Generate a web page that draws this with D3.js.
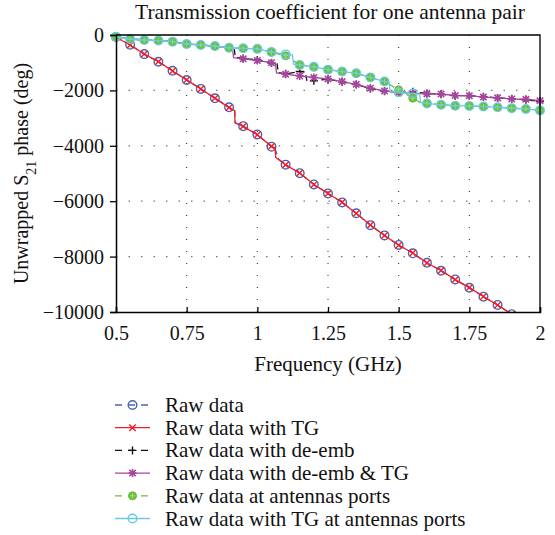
<!DOCTYPE html>
<html>
<head>
<meta charset="utf-8">
<script src="https://cdn.jsdelivr.net/npm/d3@7"></script>
<style>
    body { margin: 0; background: #fff; }
    svg text { font-family: "Liberation Serif", "DejaVu Serif", serif; fill: #111; }
</style>
</head>
<body>
<div id="chart"></div>
<script>
// Frequencies where markers sit (GHz)
const markFreq = [0.5, 0.55, 0.6, 0.65, 0.7, 0.75, 0.8, 0.85, 0.9, 0.95, 1.0,
    1.05, 1.1, 1.15, 1.2, 1.25, 1.3, 1.35, 1.4, 1.45, 1.5, 1.55, 1.6, 1.65,
    1.7, 1.75, 1.8, 1.85, 1.9, 1.95, 2.0];

// Unwrapped phase (deg) at each marker frequency
const rawData = [-70, -350, -690, -965, -1290, -1625, -1945, -2285, -2610, -3290, -3590,
    -4030, -4680, -4990, -5395, -5720, -6045, -6435, -6865, -7235, -7580, -7880, -8225,
    -8510, -8825, -9125, -9445, -9745, -10080, -10400, -10720];
const rawTG = [-80, -360, -685, -960, -1300, -1620, -1950, -2280, -2620, -3300, -3600,
    -4020, -4690, -4980, -5400, -5720, -6040, -6440, -6860, -7240, -7590, -7870, -8230,
    -8500, -8830, -9120, -9440, -9750, -10080, -10400, -10720];
const rawDeemb = [-60, -145, -180, -200, -240, -325, -360, -400, -460, -850, -900,
    -1010, -1400, -1320, -1650, -1600, -1690, -1790, -1930, -2030, -2070, -2050, -2110,
    -2140, -2190, -2190, -2230, -2270, -2300, -2340, -2400];
const rawDeembTG = [-60, -145, -180, -200, -240, -325, -360, -400, -460, -860, -920,
    -1000, -1415, -1480, -1535, -1585, -1680, -1780, -1920, -2020, -2080, -2100, -2125,
    -2130, -2185, -2190, -2240, -2270, -2310, -2320, -2370];
const rawPorts = [-60, -145, -180, -200, -240, -325, -360, -400, -460, -480, -500,
    -620, -750, -1080, -1150, -1250, -1320, -1380, -1530, -1680, -1980, -2280, -2460,
    -2520, -2555, -2560, -2580, -2610, -2640, -2670, -2720];
const rawTGPorts = [-60, -145, -180, -200, -240, -325, -360, -400, -460, -480, -500,
    -610, -700, -1080, -1150, -1250, -1320, -1380, -1530, -1680, -2070, -2110, -2470,
    -2520, -2555, -2560, -2580, -2610, -2640, -2670, -2720];

// Extra samples where the phase jumps between marker frequencies
const rawDataSteps = [[0.92, -2730], [0.922, -3170], [1.062, -4070], [1.075, -4480]];
const rawTGSteps = [[0.92, -2730], [0.921, -3170], [1.063, -4080], [1.065, -4420]];
const rawDeembSteps = [[0.918, -470], [0.922, -800], [1.07, -1040], [1.074, -1360],
    [1.17, -1330], [1.175, -1640]];
const rawDeembTGSteps = [[0.912, -470], [0.916, -820], [1.064, -1030], [1.068, -1370]];
const rawPortsSteps = [[1.575, -2430]];
const rawTGPortsSteps = [[1.124, -720], [1.128, -1050], [1.466, -1700], [1.47, -2040],
    [1.574, -2130], [1.578, -2440]];

const xTicks = [0.5, 0.75, 1, 1.25, 1.5, 1.75, 2];
const yTicks = [0, -2000, -4000, -6000, -8000, -10000];

const series = [
    {name: 'Raw data', values: rawData, steps: rawDataSteps, color: '#4a62b4', dash: '6,4', marker: 'circle'},
    {name: 'Raw data with TG', values: rawTG, steps: rawTGSteps, color: '#f21c24', dash: null, marker: 'cross'},
    {name: 'Raw data with de-emb', values: rawDeemb, steps: rawDeembSteps, color: '#111111', dash: '6,4', marker: 'plus'},
    {name: 'Raw data with de-emb & TG', values: rawDeembTG, steps: rawDeembTGSteps, color: '#a8449e', dash: null, marker: 'star'},
    {name: 'Raw data at antennas ports', values: rawPorts, steps: rawPortsSteps, color: '#6cbd3a', dash: '6,4', marker: 'filled'},
    {name: 'Raw data with TG at antennas ports', values: rawTGPorts, steps: rawTGPortsSteps, color: '#68cce0', dash: null, marker: 'circle'}
];

const margin = {top: 35, right: 15, bottom: 223, left: 116};
const width = 555 - margin.left - margin.right;
const height = 535 - margin.top - margin.bottom;
const fontSize = '20px';

const svg = d3.select('#chart')
    .append('svg')
    .attr('width', 555)
    .attr('height', 535);

const g = svg.append('g')
    .attr('transform', `translate(${margin.left},${margin.top})`);

const x = d3.scaleLinear().domain([0.5, 2]).range([0, width]);
const y = d3.scaleLinear().domain([-10000, 0]).range([height, 0]);

// Grid
g.append('g')
    .selectAll('line')
    .data(xTicks.slice(1, -1))
    .enter()
    .append('line')
    .attr('x1', d => x(d)).attr('x2', d => x(d))
    .attr('y1', 0).attr('y2', height)
    .attr('stroke', '#222')
    .attr('stroke-width', 1)
    .attr('stroke-dasharray', '1,11');

g.append('g')
    .selectAll('line')
    .data(yTicks.slice(1, -1))
    .enter()
    .append('line')
    .attr('x1', 0).attr('x2', width)
    .attr('y1', d => y(d)).attr('y2', d => y(d))
    .attr('stroke', '#777')
    .attr('stroke-width', 1.2)
    .attr('stroke-dasharray', '1.5,11');

// Plot clip
svg.append('defs').append('clipPath')
    .attr('id', 'plotClip')
    .append('rect')
    .attr('x', -6).attr('y', -6)
    .attr('width', width + 12).attr('height', height + 6);

const plot = g.append('g').attr('clip-path', 'url(#plotClip)');

const line = d3.line()
    .x(d => x(d[0]))
    .y(d => y(d[1]));

function markerPath(type) {
    const s = 3.2;
    if (type === 'cross') return `M${-s},${-s}L${s},${s}M${-s},${s}L${s},${-s}`;
    if (type === 'plus') return `M${-s - 0.8},0L${s + 0.8},0M0,${-s - 0.8}L0,${s + 0.8}`;
    if (type === 'star') return `M${-s - 0.8},0L${s + 0.8},0M0,${-s - 0.8}L0,${s + 0.8}M${-s},${-s}L${s},${s}M${-s},${s}L${s},${-s}`;
    return null;
}

function drawMarker(sel, type, color) {
    if (type === 'circle') {
        sel.append('circle').attr('r', 4.3).attr('fill', 'none')
            .attr('stroke', color).attr('stroke-width', 1.4);
    } else if (type === 'filled') {
        sel.append('circle').attr('r', 4).attr('fill', color)
            .attr('stroke', color).attr('stroke-width', 1);
        sel.append('path').attr('d', 'M-2.5,0L2.5,0M0,-2.5L0,2.5')
            .attr('stroke', '#a6dd7a').attr('stroke-width', 1);
    } else {
        sel.append('path').attr('d', markerPath(type)).attr('fill', 'none')
            .attr('stroke', color).attr('stroke-width', type === 'star' ? 1.6 : 1.4);
    }
}

series.forEach(s => {
    const pts = markFreq.map((f, i) => [f, s.values[i]]);
    const all = pts.concat(s.steps).sort((a, b) => a[0] - b[0]);

    plot.append('path')
        .datum(all)
        .attr('d', line)
        .attr('fill', 'none')
        .attr('stroke', s.color)
        .attr('stroke-width', 1.3)
        .attr('stroke-dasharray', s.dash);

    plot.append('g')
        .selectAll('g')
        .data(pts)
        .enter()
        .append('g')
        .attr('transform', d => `translate(${x(d[0])},${y(d[1])})`)
        .each(function () { drawMarker(d3.select(this), s.marker, s.color); });
});

// Frame (top and right)
g.append('path')
    .attr('d', `M0,0H${width}V${height}`)
    .attr('fill', 'none')
    .attr('stroke', '#000')
    .attr('stroke-width', 1.3);

// Axes
const xAxis = g.append('g')
    .attr('transform', `translate(0,${height})`)
    .call(d3.axisBottom(x).tickValues(xTicks).tickSize(-5).tickPadding(14)
        .tickFormat(d => String(d)));

const yAxis = g.append('g')
    .call(d3.axisLeft(y).tickValues(yTicks).tickSize(6).tickPadding(6)
        .tickFormat(d => d === 0 ? '0' : '\u2212' + Math.abs(d)));

[xAxis, yAxis].forEach(a => {
    a.select('.domain').attr('stroke', '#000').attr('stroke-width', 1.5);
    a.selectAll('.tick line').attr('stroke', '#000').attr('stroke-width', 1.3);
    a.selectAll('text')
        .style('font-family', '"Liberation Serif", "DejaVu Serif", serif')
        .style('font-size', fontSize)
        .attr('fill', '#111');
});

// Title
g.append('text')
    .attr('x', width / 2 + 2)
    .attr('y', -16)
    .attr('text-anchor', 'middle')
    .style('font-size', '21.5px')
    .text('Transmission coefficient for one antenna pair');

// X label
g.append('text')
    .attr('x', width / 2)
    .attr('y', height + 59)
    .attr('text-anchor', 'middle')
    .style('font-size', '21px')
    .text('Frequency (GHz)');

// Y label
const yLabel = g.append('text')
    .attr('transform', 'rotate(-90)')
    .attr('x', -height / 2)
    .attr('y', -88)
    .attr('text-anchor', 'middle')
    .style('font-size', fontSize);
yLabel.append('tspan').text('Unwrapped S');
yLabel.append('tspan').attr('baseline-shift', 'sub').style('font-size', '14px').text('21');
yLabel.append('tspan').text(' phase (deg)');

// Legend
const legend = svg.append('g')
    .attr('transform', 'translate(115,405)');

const rows = legend.selectAll('g')
    .data(series)
    .enter()
    .append('g')
    .attr('transform', (d, i) => `translate(0,${i * 22.7})`);

rows.append('line')
    .attr('x1', 0).attr('x2', 35)
    .attr('stroke', d => d.color)
    .attr('stroke-width', 1.3)
    .attr('stroke-dasharray', d => d.dash ? '7,6' : null);

rows.each(function (d) {
    const m = d3.select(this).append('g').attr('transform', 'translate(17.5,0)');
    drawMarker(m, d.marker, d.color);
});

rows.append('text')
    .attr('x', 50)
    .attr('y', 7)
    .style('font-size', '21px')
    .text(d => d.name);
</script>
</body>
</html>
